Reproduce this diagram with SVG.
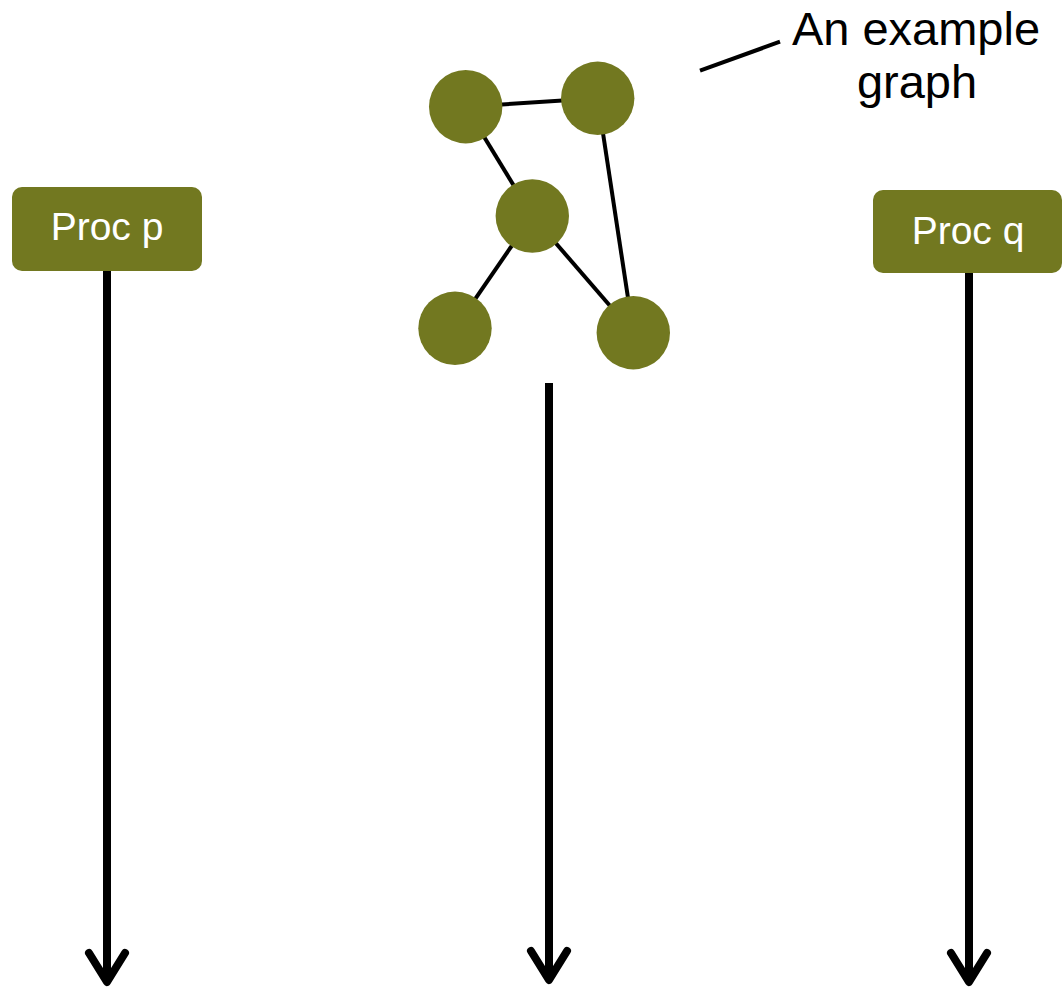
<svg xmlns="http://www.w3.org/2000/svg" width="1063" height="987" viewBox="0 0 1063 987">
<style>
.box{fill:#727820}
.node{fill:#727820}
.lbl{font-family:"Liberation Sans",Arial,sans-serif;fill:#ffffff;font-size:39px;text-anchor:middle}
.note{font-family:"Liberation Sans",Arial,sans-serif;fill:#000000;font-size:47px;text-anchor:middle}
.edge{stroke:#000;stroke-width:4;fill:none}
.time{stroke:#000;stroke-width:8;fill:none}
.head{stroke:#000;stroke-width:8;fill:none;stroke-linecap:round;stroke-linejoin:round}
</style>
<rect width="1063" height="987" fill="#ffffff"/>
<g id="connectors">
  <line class="time" x1="107" y1="271" x2="107" y2="980"/>
  <polyline class="head" points="89,953 107,982 125,953"/>
  <line class="time" x1="549" y1="383" x2="549" y2="980"/>
  <polyline class="head" points="531,951 549,980 567,951"/>
  <line class="time" x1="969" y1="272" x2="969" y2="980"/>
  <polyline class="head" points="951,953 969,982 987,953"/>
  <line class="edge" x1="465.7" y1="106.7" x2="597.7" y2="98.3"/>
  <line class="edge" x1="465.7" y1="106.7" x2="532.3" y2="216"/>
  <line class="edge" x1="597.7" y1="98.3" x2="633.3" y2="332.7"/>
  <line class="edge" x1="532.3" y1="216" x2="455" y2="328.3"/>
  <line class="edge" x1="532.3" y1="216" x2="633.3" y2="332.7"/>
  <line class="edge" x1="700" y1="70.7" x2="780" y2="41.7"/>
</g>
<g id="proc-p">
  <rect class="box" x="12" y="187" width="190" height="84" rx="10"/>
  <text class="lbl" x="107" y="240">Proc p</text>
</g>
<g id="proc-q">
  <rect class="box" x="873" y="190" width="189" height="83" rx="10"/>
  <text class="lbl" x="968" y="244">Proc q</text>
</g>
<g id="graph-a"><circle class="node" cx="465.7" cy="106.7" r="36.7"/></g>
<g id="graph-b"><circle class="node" cx="597.7" cy="98.3" r="36.7"/></g>
<g id="graph-c"><circle class="node" cx="532.3" cy="216" r="36.7"/></g>
<g id="graph-d"><circle class="node" cx="455" cy="328.3" r="36.7"/></g>
<g id="graph-e"><circle class="node" cx="633.3" cy="332.7" r="36.7"/></g>
<g id="note">
  <text class="note" x="916" y="45">An example</text>
  <text class="note" x="917" y="98">graph</text>
</g>
</svg>
